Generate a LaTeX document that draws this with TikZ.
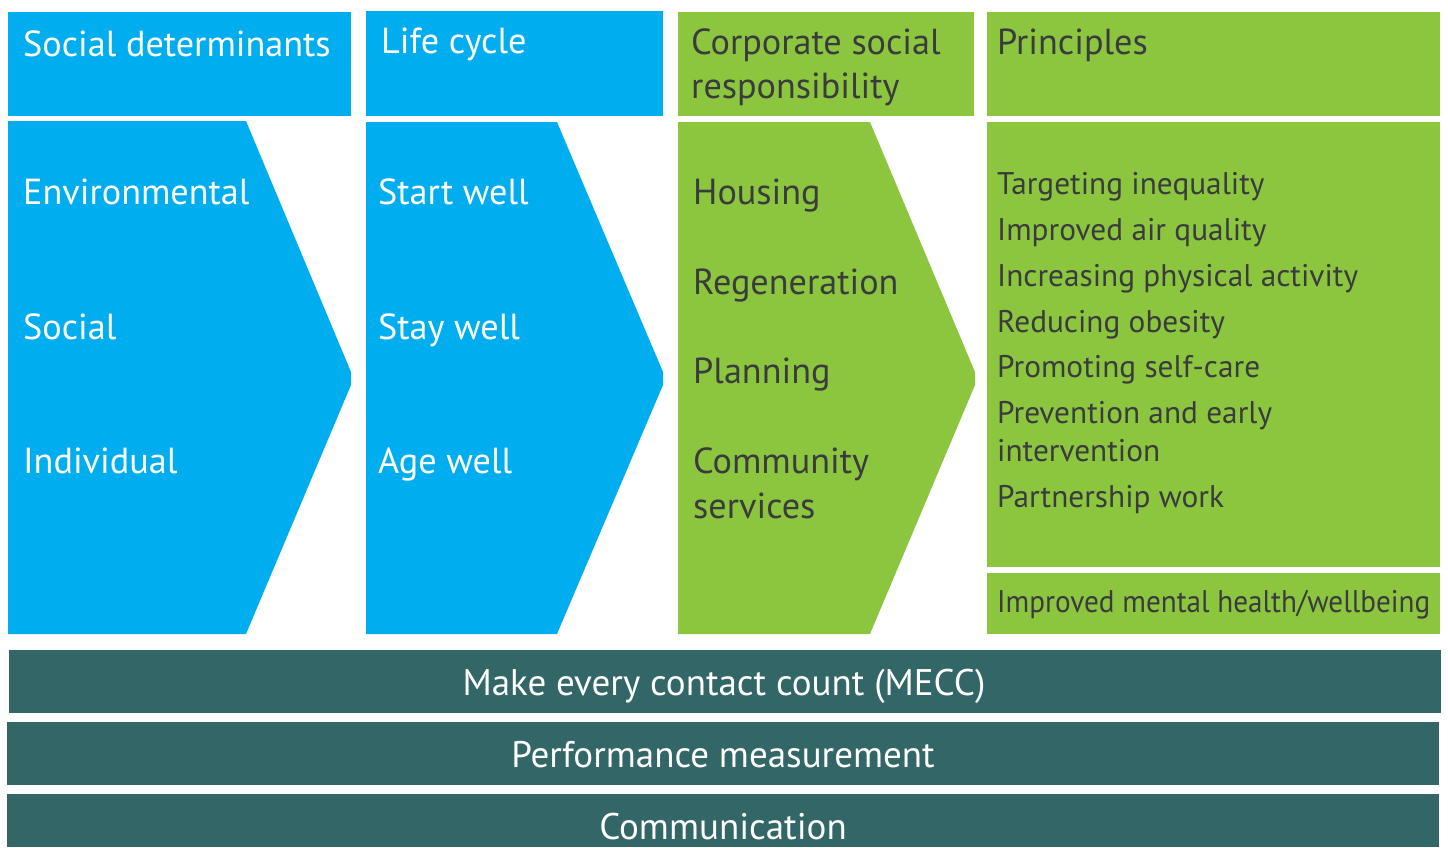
\documentclass[tikz,border=0pt]{standalone}
\usepackage{graphicx}
\usepackage{fontspec}
\setmainfont{PT Sans}
\definecolor{skyblue}{HTML}{00AEEF}
\definecolor{leafgreen}{HTML}{8CC63F}
\definecolor{deepteal}{HTML}{336666}
\definecolor{inkgrey}{HTML}{3A3B3D}
\begin{document}
\begin{tikzpicture}[x=1pt,y=-1pt,
  blueshape/.style={fill=skyblue},
  greenshape/.style={fill=leafgreen},
  tealbar/.style={fill=deepteal},
  txt/.style={anchor=base west, inner sep=0pt},
  headtxt/.style={txt, font=\fontsize{36.2}{44}\selectfont},
  itemtxt/.style={txt, font=\fontsize{36.2}{44}\selectfont},
  listtxt/.style={txt, font=\fontsize{31.3}{38}\selectfont, text=inkgrey},
  bartxt/.style={anchor=base, inner sep=0pt, text=white, font=\fontsize{37}{44}\selectfont}]
\useasboundingbox (0,0) rectangle (1448,847);

% header boxes
\fill[blueshape] (8,12) rectangle (351,116);
\fill[blueshape] (366,11) rectangle (663,116);
\fill[greenshape] (678,12) rectangle (974,116);
\fill[greenshape] (987,12) rectangle (1440,116);

% chevrons
\fill[blueshape] (8,121) -- (246,121) -- (351,372) -- (351,385) -- (246,634) -- (8,634) -- cycle;
\fill[blueshape] (366,122) -- (557,122) -- (663,372) -- (663,385) -- (557,634) -- (366,634) -- cycle;
\fill[greenshape] (678,122) -- (870,122) -- (975,372) -- (975,385) -- (870,634) -- (678,634) -- cycle;

% principles panel
\fill[greenshape] (987,122) rectangle (1440,567);
\fill[greenshape] (987,573) rectangle (1440,634);

% bottom bars
\fill[tealbar] (9,650) rectangle (1441,713);
\fill[tealbar] (7,722) rectangle (1439,785);
\fill[tealbar] (7,794) rectangle (1439,847);

% headers
\node[headtxt, text=white] (h1) at (23,56) {Social determinants};
\node[headtxt, text=white] (h2) at (381,53) {Life cycle};
\node[headtxt, text=inkgrey] (h3a) at (691,54) {Corporate social};
\node[headtxt, text=inkgrey] (h3b) at (691,98) {responsibility};
\node[headtxt, text=inkgrey] (h4) at (997,54) {Principles};

% social determinants
\node[itemtxt, text=white] (sd1) at (23,204) {Environmental};
\node[itemtxt, text=white] (sd2) at (23,339) {Social};
\node[itemtxt, text=white] (sd3) at (23,473) {Individual};

% life cycle
\node[itemtxt, text=white] (lc1) at (378,204) {Start well};
\node[itemtxt, text=white] (lc2) at (378,339) {Stay well};
\node[itemtxt, text=white] (lc3) at (378,473) {Age well};

% corporate social responsibility
\node[itemtxt, text=inkgrey] (cs1) at (693,204) {Housing};
\node[itemtxt, text=inkgrey] (cs2) at (693,294) {Regeneration};
\node[itemtxt, text=inkgrey] (cs3) at (693,383) {Planning};
\node[itemtxt, text=inkgrey] (cs4) at (693,473) {Community};
\node[itemtxt, text=inkgrey] (cs5) at (693,518) {services};

% principles
\node[listtxt] (p1) at (997,194) {Targeting inequality};
\node[listtxt] (p2) at (997,240) {Improved air quality};
\node[listtxt] (p3) at (997,286) {Increasing physical activity};
\node[listtxt] (p4) at (997,332) {Reducing obesity};
\node[listtxt] (p5) at (997,377) {Promoting self-care};
\node[listtxt] (p6a) at (997,423) {Prevention and early};
\node[listtxt] (p6b) at (997,461) {intervention};
\node[listtxt] (p7) at (997,507) {Partnership work};
\node[listtxt] (p8) at (997,612) {\resizebox{433pt}{\height}{Improved mental health/wellbeing}};

% cross-cutting themes
\node[bartxt] (b1) at (724,695) {Make every contact count (MECC)};
\node[bartxt] (b2) at (723,767) {Performance measurement};
\node[bartxt] (b3) at (723,839) {Communication};
\end{tikzpicture}
\end{document}
